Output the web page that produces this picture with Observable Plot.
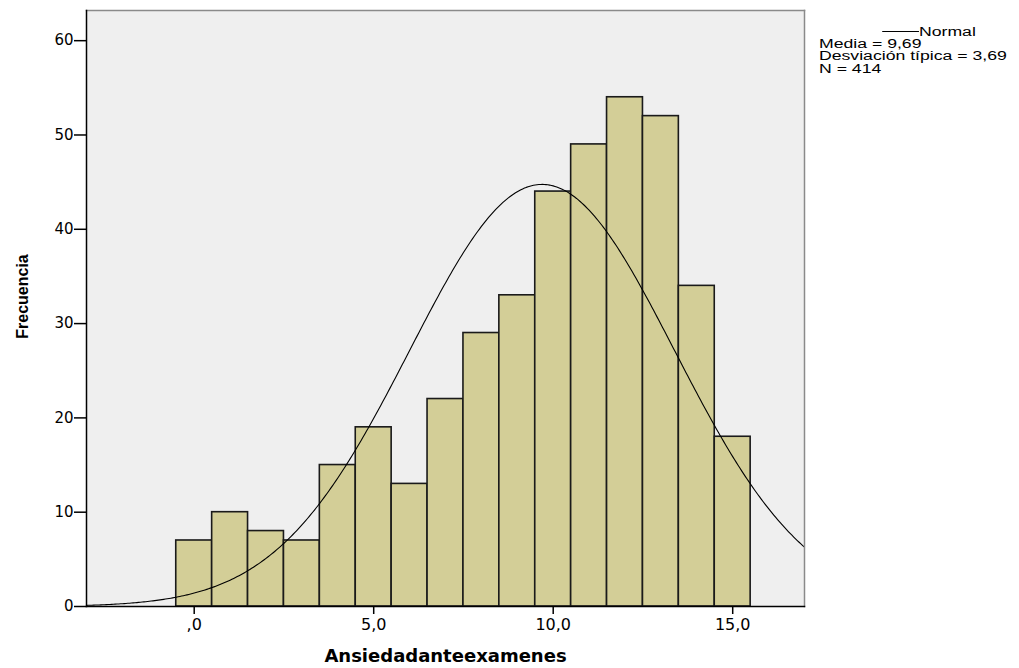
<!DOCTYPE html>
<html>
<head>
<meta charset="utf-8">
<script src="https://cdn.jsdelivr.net/npm/d3@7"></script>
<script src="https://cdn.jsdelivr.net/npm/@observablehq/plot@0.6"></script>
<style>
  html, body { margin: 0; padding: 0; background: #fff; }
  #wrap { position: relative; width: 1019px; height: 668px; font-family: "Liberation Sans", Arial, sans-serif; }
  #legend { position: absolute; left: 819px; top: 26px; font-size: 12px; line-height: 12.2px; color: #000; transform: scaleX(1.47); transform-origin: 0 0; white-space: nowrap; }
  #legend .ln { display: inline-block; width: 25px; height: 0; border-top: 1px solid #000; vertical-align: middle; margin-left: 43px; margin-right: 0px; position: relative; top: -1px; }
</style>
</head>
<body>
<div id="wrap"></div>
<script>
// Bin edges (lower, upper) and frequencies
const binLower = [-0.5, 0.5, 1.5, 2.5, 3.5, 4.5, 5.5, 6.5, 7.5, 8.5, 9.5, 10.5, 11.5, 12.5, 13.5, 14.5];
const binUpper = [0.5, 1.5, 2.5, 3.5, 4.5, 5.5, 6.5, 7.5, 8.5, 9.5, 10.5, 11.5, 12.5, 13.5, 14.5, 15.5];
const frequencies = [7, 10, 8, 7, 15, 19, 13, 22, 29, 33, 44, 49, 54, 52, 34, 18];
// Normal curve parameters (from the legend)
const mean = 9.69;
const sd = 3.69;
const N = 414;
const binWidth = 1;
const xTicks = [0, 5, 10, 15];
const xTickLabels = [",0", "5,0", "10,0", "15,0"];
const yTicks = [0, 10, 20, 30, 40, 50, 60];

const bars = frequencies.map((f, i) => ({x1: binLower[i], x2: binUpper[i], y: f}));
const curve = d3.range(-3, 17.001, 0.05).map(x => ({
  x, y: N * binWidth * Math.exp(-0.5 * ((x - mean) / sd) ** 2) / (sd * Math.sqrt(2 * Math.PI))
}));

const chart = Plot.plot({
  width: 1019,
  height: 668,
  marginTop: 10,
  marginLeft: 86,
  marginRight: 215,
  marginBottom: 62,
  style: {fontFamily: "DejaVu Sans, Verdana, sans-serif", fontSize: "15px", color: "#000", background: "#fff"},
  x: {domain: [-3, 17], label: null},
  y: {domain: [0, 63.2], label: null},
  marks: [
    Plot.frame({fill: "#efefef", stroke: null}),
    Plot.rectY(bars, {x1: "x1", x2: "x2", y: "y", fill: "#d3ce97", stroke: "#1a1a1a", strokeWidth: 1.6, inset: 0}),
    Plot.line(curve, {x: "x", y: "y", stroke: "#000", strokeWidth: 1.1, curve: "linear"}),
    // frame: gray top/right, black left/bottom
    Plot.frame({anchor: "top", stroke: "#8a8a8a", strokeWidth: 1.5}),
    Plot.frame({anchor: "right", stroke: "#8a8a8a", strokeWidth: 1.5}),
    Plot.frame({anchor: "left", stroke: "#000", strokeWidth: 1.5}),
    Plot.frame({anchor: "bottom", stroke: "#000", strokeWidth: 1.5}),
    Plot.axisX({ticks: xTicks, tickFormat: (d) => xTickLabels[xTicks.indexOf(d)], tickSize: 8, tickPadding: 4, label: null, strokeWidth: 1.5, fontSize: 16}),
    Plot.axisY({ticks: yTicks, tickSize: 12, tickPadding: 1, label: null, strokeWidth: 1.5, fontSize: 15}),
    Plot.text(["Frecuencia"], {frameAnchor: "left", dx: -64, dy: -12, rotate: -90, textAnchor: "middle", fontWeight: "bold", fontSize: 16, fontFamily: "Liberation Sans, Arial, sans-serif"}),
    Plot.text(["Ansiedadanteexamenes"], {frameAnchor: "bottom", dy: 50, fontWeight: "bold", fontSize: 18, lineAnchor: "middle", fontFamily: "DejaVu Sans, Verdana, sans-serif", letterSpacing: "0.4px"})
  ]
});

const wrap = document.getElementById("wrap");
wrap.appendChild(chart);
const legend = document.createElement("div");
legend.id = "legend";
legend.innerHTML = '<div><span class="ln"></span>Normal</div><div>Media = 9,69</div><div>Desviación típica = 3,69</div><div>N = 414</div>';
wrap.appendChild(legend);
</script>
</body>
</html>
